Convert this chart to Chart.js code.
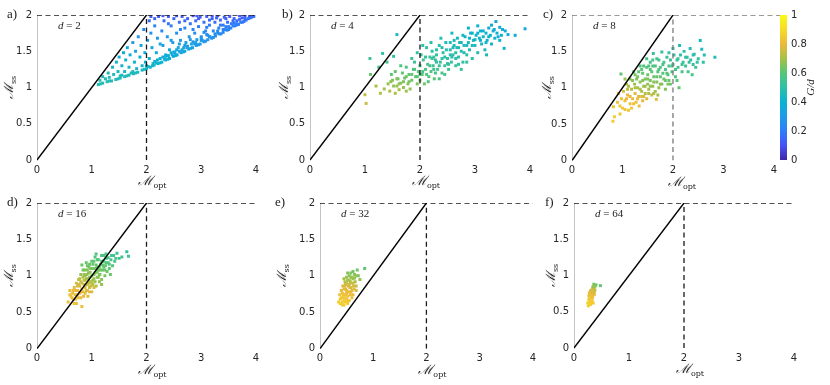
<!DOCTYPE html>
<html>
<head>
<meta charset="utf-8">
<script src="https://cdn.jsdelivr.net/npm/chart.js@4.4.1/dist/chart.umd.min.js"></script>
<style>
  body { margin: 0; background: #fff; width: 830px; height: 385px; position: relative; overflow: hidden; }
  canvas { position: absolute; }
</style>
</head>
<body>
<canvas id="pa"></canvas>
<canvas id="pb"></canvas>
<canvas id="pc"></canvas>
<canvas id="pd"></canvas>
<canvas id="pe"></canvas>
<canvas id="pf"></canvas>
<canvas id="cbar"></canvas>
<script>
// ---- axis ticks / reference lines ----
const xTicks = [0, 1, 2, 3, 4];
const yTicks = [0, 0.5, 1, 1.5, 2];
const cbTicks = [0, 0.2, 0.4, 0.6, 0.8, 1];
const diagX = [0, 2], diagY = [0, 2];   // M_ss = M_opt
const capY = 2, splitX = 2;             // dashed limits

// ---- scatter points: [M_opt, M_ss, G/d] ----
const dimA = 2;
const ptsA = [
  // lower edge band
  [1.12,1.04,.47],[1.20,1.06,.47],[1.28,1.08,.47],[1.36,1.09,.47],[1.44,1.11,.47],[1.52,1.13,.47],
  [1.60,1.15,.46],[1.68,1.17,.45],[1.76,1.19,.45],[1.84,1.21,.45],[1.92,1.24,.44],[2.00,1.26,.43],
  [2.07,1.28,.42],[2.14,1.31,.42],[2.21,1.33,.41],[2.28,1.35,.40],[2.35,1.38,.39],[2.42,1.40,.38],
  [2.49,1.43,.37],[2.56,1.45,.36],[2.63,1.48,.35],[2.70,1.50,.34],[2.77,1.53,.33],[2.84,1.55,.32],
  [2.91,1.58,.31],[2.98,1.60,.30],[3.05,1.63,.29],[3.12,1.66,.28],[3.19,1.68,.27],[3.26,1.71,.26],
  [3.33,1.74,.25],[3.40,1.76,.24],[3.47,1.79,.23],[3.54,1.82,.22],[3.61,1.85,.21],[3.68,1.87,.20],
  [3.75,1.90,.19],[3.82,1.93,.18],[3.89,1.96,.18],[3.96,1.98,.17],
  [2.03,1.29,.42],[2.18,1.34,.41],[2.33,1.39,.39],[2.47,1.45,.37],[2.60,1.50,.35],[2.74,1.55,.33],
  [2.88,1.60,.31],[3.02,1.65,.29],[3.16,1.70,.27],[3.30,1.75,.25],[3.44,1.80,.23],[3.58,1.85,.21],
  [3.72,1.90,.19],[3.86,1.95,.18],
  [3.08,1.64,.29],[3.22,1.69,.27],[3.36,1.74,.25],[3.50,1.80,.23],[3.64,1.86,.21],[3.78,1.91,.19],
  [3.92,1.97,.18],[2.95,1.59,.31],[2.81,1.54,.33],[2.67,1.49,.35],[2.53,1.44,.37],[2.39,1.39,.39],
  [2.25,1.34,.41],[2.11,1.30,.42],[1.96,1.25,.44],[1.80,1.20,.45],[1.64,1.16,.46],[1.48,1.12,.47],
  [1.32,1.09,.47],[1.16,1.05,.47],
  // scattered interior
  [1.15,1.10,.47],[1.20,1.15,.46],[1.25,1.12,.47],[1.30,1.20,.45],[1.32,1.14,.46],[1.38,1.28,.43],
  [1.40,1.18,.45],[1.45,1.35,.41],[1.48,1.22,.44],[1.50,1.42,.38],[1.52,1.16,.46],[1.55,1.30,.42],
  [1.58,1.48,.37],[1.60,1.22,.44],[1.62,1.38,.40],[1.65,1.55,.34],[1.68,1.28,.43],[1.70,1.45,.38],
  [1.72,1.20,.45],[1.75,1.62,.31],[1.78,1.35,.41],[1.80,1.50,.36],[1.82,1.26,.43],[1.85,1.70,.28],
  [1.88,1.42,.39],[1.90,1.58,.33],[1.92,1.30,.42],[1.95,1.80,.24],[1.97,1.48,.37],[1.98,1.35,.41],
  [2.02,1.65,.30],[2.05,1.92,.16],[2.05,1.40,.39],[2.08,1.75,.26],[2.10,1.55,.34],[2.12,1.33,.42],
  [2.15,1.85,.21],[2.18,1.48,.37],[2.20,1.68,.29],[2.22,1.98,.12],[2.25,1.40,.39],[2.28,1.78,.24],
  [2.30,1.58,.33],[2.32,1.92,.15],[2.35,1.45,.38],[2.38,1.70,.28],[2.40,1.98,.12],[2.42,1.52,.35],
  [2.45,1.85,.20],[2.48,1.62,.31],[2.50,1.95,.14],[2.52,1.48,.37],[2.55,1.75,.26],[2.58,1.55,.34],
  [2.60,1.90,.17],[2.62,1.65,.30],[2.65,1.98,.12],[2.68,1.55,.34],[2.70,1.82,.22],[2.72,1.62,.31],
  [2.75,1.95,.14],[2.78,1.70,.28],[2.80,1.88,.18],[2.82,1.60,.32],[2.85,1.99,.11],[2.88,1.75,.26],
  [2.90,1.92,.16],[2.92,1.66,.30],[2.95,1.84,.20],[2.98,1.97,.13],[3.00,1.70,.28],[3.05,1.90,.17],
  [3.08,1.78,.24],[3.10,1.98,.12],[3.12,1.72,.27],[3.15,1.86,.19],[3.20,1.95,.14],[3.22,1.78,.24],
  [3.25,1.90,.17],[3.30,1.99,.11],[3.32,1.82,.22],[3.35,1.93,.15],[3.40,1.86,.19],[3.42,1.97,.13],
  [3.48,1.90,.17],[3.52,1.98,.12],[3.55,1.88,.19],[3.60,1.95,.14],[3.65,1.92,.16],[3.70,1.99,.11],
  [3.75,1.96,.13],[3.80,1.98,.12],[2.00,1.30,.42],[2.15,1.36,.41],[2.40,1.44,.38],[2.65,1.52,.35],
  [2.90,1.62,.31],[3.15,1.70,.28],[3.40,1.80,.23],[3.65,1.88,.20],[2.50,1.49,.36],[2.75,1.57,.33],
  [3.00,1.65,.30],[3.25,1.74,.26],[3.50,1.84,.21],[3.80,1.94,.17],[1.75,1.22,.45],[1.55,1.17,.46],
  [2.30,1.42,.38],[2.08,1.98,.12],[2.30,1.99,.11],[2.55,1.99,.11],[2.92,1.99,.11],[3.20,1.99,.11],
  [2.20,1.38,.40],[2.35,1.43,.38],[2.45,1.48,.36],[2.55,1.52,.35],[2.70,1.58,.32],[2.85,1.63,.30],
  [3.00,1.68,.28],[3.10,1.73,.26],[3.30,1.78,.24],[3.45,1.84,.21],[3.60,1.89,.19],[2.60,1.60,.32],
  [2.80,1.66,.29],[3.05,1.76,.25],[3.35,1.86,.20],[3.58,1.92,.16],[3.15,1.93,.15],[2.95,1.95,.13],
  [2.70,1.92,.15],[2.40,1.88,.18],[3.45,1.95,.13],[3.70,1.94,.15],[2.15,1.95,.14],[2.62,1.80,.23],
  [2.85,1.80,.22],[3.10,1.83,.20],[2.45,1.65,.30],[2.25,1.60,.32],[3.28,1.96,.13],[3.88,1.99,.12]
];

const dimB = 4;
const ptsB = [
  [1.58,1.73,.45],[1.09,1.40,.55],[1.32,1.47,.50],[1.00,0.90,.74],[1.02,0.78,.75],[1.10,1.18,.62],
  [1.25,1.28,.58],[1.28,0.92,.72],[1.20,1.02,.70],[1.40,1.35,.55],[3.91,1.81,.36],[3.73,1.72,.37],
  [3.60,1.73,.38],[3.38,1.91,.33],[3.53,1.54,.42],[3.45,1.83,.35],[3.21,1.45,.44],[3.30,1.86,.36],
  [3.55,1.78,.36],[1.48,1.18,.60],[1.52,1.43,.50],
  [1.35,0.98,.70],[1.42,1.05,.68],[1.45,0.95,.72],[1.50,1.10,.66],[1.55,0.92,.71],[1.58,1.02,.68],
  [1.60,1.12,.64],[1.62,0.97,.70],[1.65,1.06,.67],[1.68,1.20,.62],[1.70,1.00,.68],[1.72,1.13,.64],
  [1.75,1.28,.58],[1.78,1.05,.66],[1.80,1.18,.62],[1.82,0.98,.68],[1.85,1.10,.64],[1.88,1.25,.60],
  [1.90,1.35,.55],[1.92,1.15,.62],[1.95,1.05,.65],[1.97,1.22,.60],[2.00,1.10,.63],[2.00,1.30,.57],
  [2.02,1.45,.52],[2.04,1.18,.60],[2.06,1.38,.55],[2.08,1.05,.64],[2.10,1.25,.58],[2.12,1.55,.50],
  [2.14,1.32,.56],[2.16,1.15,.60],[2.18,1.42,.53],[2.20,1.22,.58],[2.22,1.50,.50],[2.24,1.30,.55],
  [2.26,1.12,.60],[2.28,1.38,.53],[2.30,1.45,.51],[2.32,1.25,.56],[2.35,1.58,.48],[2.37,1.35,.53],
  [2.40,1.20,.57],[2.42,1.48,.50],[2.45,1.30,.54],[2.47,1.62,.46],[2.50,1.40,.51],[2.52,1.25,.55],
  [2.55,1.52,.48],[2.57,1.35,.52],[2.60,1.45,.50],[2.62,1.65,.45],[2.65,1.30,.53],[2.67,1.55,.47],
  [2.70,1.42,.50],[2.72,1.62,.45],[2.75,1.50,.48],[2.78,1.35,.52],[2.80,1.58,.46],[2.82,1.70,.43],
  [2.85,1.45,.49],[2.88,1.62,.45],[2.90,1.52,.47],[2.92,1.75,.42],[2.95,1.40,.50],[2.97,1.65,.44],
  [3.00,1.58,.45],[3.02,1.72,.42],[3.05,1.48,.47],[3.08,1.68,.43],[3.10,1.78,.40],[3.12,1.60,.44],
  [3.15,1.70,.42],[3.18,1.52,.45],[3.20,1.75,.40],[3.22,1.65,.42],[3.25,1.82,.38],[3.28,1.72,.40],
  [3.30,1.60,.43],[3.33,1.78,.39],[3.36,1.68,.41],[3.40,1.75,.39],[3.45,1.65,.41],[3.48,1.72,.39],
  [3.50,1.80,.37],[1.85,1.40,.54],[1.95,1.48,.52],[2.05,1.58,.50],[2.15,1.08,.60],[2.25,1.42,.53],
  [2.35,1.12,.58],[2.45,1.18,.56],[2.55,1.62,.46],[2.65,1.48,.49],[2.75,1.25,.53],[2.85,1.35,.51],
  [1.65,1.30,.58],[1.75,0.95,.69],[1.55,1.22,.62],[2.58,1.75,.44],[2.38,1.68,.47],[2.20,1.62,.49],
  [2.88,1.82,.41],[3.05,1.85,.39],
  [2.05,1.22,.57],[2.12,1.18,.58],[2.18,1.30,.55],[2.25,1.25,.55],[2.30,1.35,.52],[2.35,1.30,.53],
  [2.40,1.40,.50],[2.45,1.42,.49],[2.50,1.33,.51],[2.55,1.45,.48],[2.60,1.55,.46],[2.65,1.40,.49],
  [2.70,1.55,.46],[2.75,1.62,.44],[2.80,1.48,.47],[2.85,1.58,.45],[2.90,1.68,.42],[2.95,1.58,.44],
  [3.00,1.66,.42],[3.05,1.75,.40],[3.10,1.65,.42],[3.15,1.78,.39],[3.20,1.62,.42],[3.25,1.70,.40],
  [3.35,1.80,.37],[3.42,1.70,.39],[1.90,1.25,.58],[1.95,1.15,.60],[1.85,1.18,.61],[1.80,1.08,.64],
  [1.75,1.15,.63],[1.70,1.08,.65],[1.62,1.05,.67],[1.58,1.12,.65],[1.52,1.02,.68],[1.47,1.08,.67],
  [2.10,1.42,.53],[2.22,1.40,.52],[2.30,1.52,.50],[2.40,1.55,.48],[2.48,1.52,.48],[2.58,1.42,.49],
  [2.68,1.68,.44],[2.78,1.72,.43],[2.95,1.75,.41],[2.00,1.18,.60],[2.28,1.20,.57],[2.52,1.32,.52],
  [2.70,1.32,.51],[2.62,1.58,.46]
];

const dimC = 8;
const ptsC = [
  [0.81,0.54,.85],[0.84,0.60,.85],[0.95,0.64,.84],[0.82,0.74,.84],[0.90,0.80,.83],[0.97,1.19,.61],
  [1.05,0.82,.82],[1.12,0.69,.84],[1.02,0.95,.78],[1.08,1.05,.70],[1.10,0.90,.80],[1.15,0.78,.83],
  [1.15,1.12,.66],[1.18,0.98,.72],[1.20,0.85,.81],[1.22,1.22,.62],[1.24,1.05,.69],[1.25,0.92,.78],
  [1.27,0.80,.82],[1.30,1.15,.65],[1.30,1.00,.70],[1.32,0.88,.79],[1.35,1.30,.58],[1.35,1.08,.67],
  [1.38,0.95,.72],[1.40,1.20,.62],[1.40,0.82,.80],[1.42,1.02,.69],[1.45,1.12,.65],[1.45,0.92,.72],
  [1.48,1.28,.59],[1.50,1.05,.67],[1.50,1.18,.63],[1.52,0.98,.70],[1.55,1.35,.56],[1.55,1.10,.65],
  [1.58,0.90,.77],[1.58,1.22,.61],[1.60,1.02,.68],[1.61,1.47,.52],[1.62,1.15,.63],[1.65,1.30,.58],
  [1.65,0.95,.70],[1.67,0.84,.78],[1.68,1.08,.66],[1.70,1.22,.60],[1.72,1.38,.55],[1.72,1.00,.68],
  [1.75,1.15,.62],[1.75,1.28,.58],[1.78,1.49,.51],[1.78,1.05,.65],[1.80,1.20,.60],[1.82,1.35,.56],
  [1.85,1.10,.63],[1.85,1.25,.58],[1.88,1.42,.53],[1.90,1.18,.60],[1.92,1.30,.56],[1.95,1.05,.64],
  [1.95,1.38,.54],[1.98,1.22,.58],[2.00,1.54,.48],[2.00,1.32,.55],[2.02,1.45,.51],[2.05,1.15,.59],
  [2.08,1.10,.61],[2.08,1.38,.53],[2.10,1.28,.56],[2.13,1.58,.46],[2.15,1.45,.51],[2.18,1.22,.57],
  [2.20,1.35,.53],[2.22,1.50,.49],[2.25,1.30,.54],[2.28,1.42,.51],[2.30,1.22,.56],[2.34,1.54,.47],
  [2.35,1.38,.51],[2.40,1.32,.53],[2.42,1.46,.49],[2.45,1.28,.54],[2.50,1.40,.50],[2.54,1.65,.43],
  [2.57,1.53,.46],[2.60,1.35,.51],[2.62,1.45,.48],[2.83,1.42,.48],
  [1.12,1.02,.71],[1.28,1.12,.66],[1.38,1.25,.61],[1.42,0.88,.78],[1.52,1.30,.59],[1.62,0.92,.71],
  [1.68,1.40,.55],[1.85,0.98,.66],[1.92,1.48,.51],[1.05,1.12,.68],[0.92,0.92,.80],[1.00,0.72,.84],
  [1.18,0.72,.83],[1.33,0.75,.81],[1.48,1.40,.56],[1.70,0.90,.71],[1.90,1.05,.64],[2.12,1.00,.62],
  [2.38,1.18,.56],
  [1.20,1.10,.67],[1.25,1.00,.71],[1.35,0.98,.71],[1.40,1.10,.66],[1.45,1.02,.69],[1.50,1.12,.65],
  [1.55,1.02,.68],[1.55,1.25,.60],[1.60,1.30,.58],[1.62,1.08,.66],[1.68,1.15,.63],[1.72,1.25,.59],
  [1.75,1.05,.66],[1.80,1.32,.57],[1.82,1.12,.63],[1.88,1.20,.60],[1.92,1.10,.62],[1.98,1.30,.56],
  [2.05,1.25,.57],[2.10,1.40,.53],[2.18,1.32,.54],[2.25,1.42,.51],[2.32,1.35,.52],[2.40,1.45,.49],
  [2.48,1.35,.51],[1.10,0.98,.73],[1.15,0.88,.80],[1.22,0.78,.82],[1.30,0.85,.80],[1.38,0.88,.78],
  [1.48,0.85,.78],[1.52,0.92,.72],[1.25,1.18,.64],[1.32,1.22,.62],[1.42,1.30,.59],[1.08,0.85,.81],
  [0.98,0.85,.82],[0.95,0.75,.84],[1.05,0.70,.84],[1.60,1.38,.56]
];

const dimD = 16;
const ptsD = [
  [0.57,0.64,.82],[0.62,0.72,.82],[0.60,0.80,.80],[0.65,0.76,.81],[0.66,0.68,.82],[0.68,0.84,.79],
  [0.70,0.74,.81],[0.72,0.62,.82],[0.72,0.90,.76],[0.74,0.80,.80],[0.75,0.70,.81],[0.76,0.95,.73],
  [0.78,0.86,.76],[0.78,0.76,.80],[0.80,1.02,.68],[0.80,0.92,.75],[0.82,1.15,.63],[0.82,0.58,.82],
  [0.82,0.82,.79],[0.84,0.98,.72],[0.85,0.72,.80],[0.86,0.88,.75],[0.87,1.08,.66],[0.88,0.94,.73],
  [0.90,0.80,.78],[0.90,1.18,.62],[0.91,1.02,.68],[0.92,0.88,.74],[0.93,0.72,.79],[0.94,0.96,.69],
  [0.95,1.12,.64],[0.96,0.84,.75],[0.97,1.05,.67],[0.98,0.92,.72],[1.00,1.20,.61],[1.00,1.00,.67],
  [1.00,0.78,.78],[1.02,0.88,.73],[1.03,1.10,.64],[1.04,0.96,.68],[1.06,1.26,.59],[1.06,1.04,.66],
  [1.08,0.86,.73],[1.08,1.15,.62],[1.10,0.98,.67],[1.12,1.08,.64],[1.12,1.22,.60],[1.14,0.92,.68],
  [1.15,1.02,.65],[1.16,1.16,.61],[1.18,1.28,.58],[1.18,0.95,.67],[1.20,1.08,.63],[1.22,1.20,.59],
  [1.24,1.00,.65],[1.25,1.14,.61],[1.27,1.24,.57],[1.28,1.06,.63],[1.30,1.18,.59],[1.32,1.10,.61],
  [1.35,1.22,.57],[1.38,1.14,.59],[1.40,1.28,.55],[1.42,1.20,.57],[1.46,1.31,.53],[1.50,1.24,.55],
  [1.64,1.33,.52],[1.67,1.27,.53],
  [0.88,1.00,.69],[0.92,1.08,.66],[0.96,0.98,.68],[1.02,1.16,.62],[1.06,0.92,.69],[1.10,1.12,.63],
  [0.86,0.94,.74],[0.94,0.90,.74],[0.98,0.86,.75],[1.04,1.02,.66],[0.76,0.88,.76],[0.70,0.80,.80],
  [0.84,0.78,.79],[0.96,1.16,.63],[1.14,1.02,.65],[1.20,1.15,.61],[0.80,0.70,.81],[0.68,0.62,.83],
  [0.92,0.80,.78],[1.18,0.88,.68],[1.34,1.02,.63],[1.26,1.30,.57],
  [0.82,0.90,.75],[0.86,1.02,.68],[0.90,0.96,.69],[0.94,1.04,.67],[0.98,1.10,.65],[1.02,0.94,.69],
  [1.06,1.10,.64],[1.10,1.05,.65],[1.14,1.12,.63],[1.18,1.20,.60],[1.22,1.12,.62],[1.26,1.18,.60],
  [1.30,1.25,.57],[1.00,0.90,.73],[0.96,0.92,.74],[0.88,0.84,.78],[0.80,0.78,.80],[0.74,0.74,.81],
  [0.70,0.68,.82],[0.64,0.70,.82],[0.78,0.96,.73],[0.84,1.08,.65],[0.92,1.14,.63],[1.04,1.20,.61],
  [1.10,1.22,.60],[1.16,1.08,.63],[1.24,1.08,.63],[1.32,1.16,.60],[1.36,1.28,.56],[1.44,1.24,.56],
  [0.88,0.76,.79],[0.96,0.78,.78],[1.04,0.84,.76],[1.12,0.98,.67],[0.74,0.86,.77],[0.66,0.80,.81],
  [0.60,0.74,.82],[1.08,1.30,.58],[1.22,1.28,.58],[1.55,1.26,.55]
];

const dimE = 32;
const ptsE = [
  [0.40,0.62,.86],[0.45,0.60,.86],[0.48,0.64,.85],[0.38,0.68,.85],[0.43,0.70,.84],[0.50,0.68,.84],
  [0.55,0.66,.84],[0.37,0.74,.83],[0.42,0.76,.82],[0.47,0.74,.82],[0.52,0.72,.82],[0.57,0.74,.81],
  [0.40,0.80,.80],[0.45,0.82,.79],[0.50,0.80,.80],[0.55,0.78,.80],[0.60,0.80,.79],[0.43,0.86,.77],
  [0.48,0.88,.76],[0.53,0.86,.77],[0.58,0.84,.78],[0.63,0.86,.77],[0.47,0.92,.71],[0.52,0.94,.70],
  [0.57,0.92,.71],[0.62,0.90,.75],[0.66,0.92,.71],[0.50,0.98,.68],[0.55,1.00,.67],[0.60,0.98,.68],
  [0.65,0.97,.68],[0.58,1.04,.65],[0.62,1.06,.64],[0.70,1.08,.63],[0.84,1.10,.61],[0.72,1.00,.66],
  [0.75,0.95,.68],[0.68,0.86,.75],[0.45,0.66,.85],[0.52,0.62,.85],[0.60,0.70,.82],[0.35,0.64,.86],
  [0.50,0.76,.81],[0.55,0.88,.76],[0.45,0.96,.70],[0.65,1.02,.66],[0.68,0.80,.77],[0.42,0.64,.85],
  [0.46,0.70,.84],[0.52,0.78,.81],[0.48,0.82,.79],[0.56,0.84,.78],[0.60,0.90,.75],[0.50,0.90,.76],
  [0.55,0.94,.71],[0.62,0.96,.69],[0.58,0.98,.68],[0.44,0.74,.83],[0.40,0.70,.84],[0.53,0.66,.84],
  [0.58,0.78,.80],[0.64,0.82,.78],[0.46,0.86,.78],[0.52,1.04,.66],[0.68,1.00,.67],[0.62,0.74,.80],
  [0.38,0.62,.86],[0.42,0.60,.86]
];

const dimF = 64;
const ptsF = [
  [0.26,0.58,.87],[0.30,0.60,.86],[0.28,0.63,.85],[0.25,0.62,.86],[0.32,0.64,.85],[0.27,0.67,.84],
  [0.31,0.68,.83],[0.29,0.71,.82],[0.34,0.70,.82],[0.30,0.74,.80],[0.33,0.76,.79],[0.28,0.76,.80],
  [0.35,0.78,.77],[0.32,0.80,.76],[0.36,0.82,.72],[0.34,0.84,.69],[0.38,0.85,.67],[0.36,0.88,.64],
  [0.40,0.87,.64],[0.48,0.86,.62],[0.31,0.72,.81],[0.33,0.66,.84],[0.37,0.74,.79],[0.29,0.66,.85],
  [0.35,0.62,.85],[0.38,0.80,.73],[0.27,0.72,.82],[0.30,0.79,.78],
  [0.28,0.60,.86],[0.31,0.62,.86],[0.30,0.66,.85],[0.32,0.70,.83],[0.30,0.70,.83],[0.33,0.73,.81],
  [0.35,0.75,.79],[0.34,0.80,.75],[0.36,0.85,.68],[0.33,0.78,.78],[0.29,0.74,.81],[0.37,0.78,.76]
];

// ---- parula-like colour map ----
const parulaStops = [[62,38,168],[71,82,245],[46,125,250],[30,155,232],[10,178,210],[45,192,168],
  [85,198,120],[165,193,70],[235,185,60],[246,220,40],[249,251,20]];
function parula(t) {
  const s = Math.max(0, Math.min(1, t)) * 10;
  const i = Math.min(9, Math.floor(s)), f = s - i;
  const a = parulaStops[i], b = parulaStops[i + 1];
  return 'rgb(' + a.map((v, k) => Math.round(v + (b[k] - v) * f)).join(',') + ')';
}

const tickFont = { family: 'DejaVu Sans', size: 10 };
const tickColor = '#262626';

function drawSub(ctx, main, sub, cx, cy) {
  ctx.font = 'italic 13px "DejaVu Serif"';
  const w1 = ctx.measureText(main).width;
  ctx.font = '8px "DejaVu Serif"';
  const w2 = ctx.measureText(sub).width;
  let x = cx - (w1 + w2) / 2;
  ctx.textAlign = 'left';
  ctx.textBaseline = 'middle';
  ctx.font = 'italic 13px "DejaVu Serif"';
  ctx.fillText(main, x, cy);
  ctx.font = '8px "DejaVu Serif"';
  ctx.fillText(sub, x + w1, cy + 4);
}

const panelText = {
  id: 'panelText',
  afterDraw(chart, args, o) {
    const { ctx, chartArea: ca } = chart;
    ctx.save();
    ctx.fillStyle = '#222';
    ctx.textBaseline = 'middle';
    ctx.textAlign = 'left';
    ctx.font = '13px "Liberation Serif"';
    ctx.fillText(o.letter, o.letterX, ca.top);
    ctx.font = 'italic 11px "Liberation Serif"';
    ctx.fillText('d', ca.left + 21, ca.top + 11);
    const w = ctx.measureText('d').width;
    ctx.font = '11px "Liberation Serif"';
    ctx.fillText(' = ' + o.d, ca.left + 21 + w, ca.top + 11);
    drawSub(ctx, 'ℳ', 'opt', (ca.left + ca.right) / 2 + 6, ca.bottom + 22);
    ctx.translate(o.yTitleX, (ca.top + ca.bottom) / 2);
    ctx.rotate(-Math.PI / 2);
    drawSub(ctx, 'ℳ', 'ss', 0, 0);
    ctx.restore();
  }
};

const panels = [
  { id: 'pa', letter: 'a)', d: dimA, pts: ptsA, canvas: [0, 0, 272, 192],   area: [37, 256, 15, 160],    xMax: 4,    letterX: 7,   yTitleX: 10,  dash: '#1a1a1a' },
  { id: 'pb', letter: 'b)', d: dimB, pts: ptsB, canvas: [272, 0, 268, 192], area: [310, 530, 15, 160],   xMax: 4,    letterX: 282, yTitleX: 285, dash: '#1a1a1a' },
  { id: 'pc', letter: 'c)', d: dimC, pts: ptsC, canvas: [540, 0, 245, 192], area: [572, 780, 15, 160.5], xMax: 4.12, letterX: 543, yTitleX: 548, dash: '#7a7a7a' },
  { id: 'pd', letter: 'd)', d: dimD, pts: ptsD, canvas: [0, 192, 272, 193],   area: [37, 256, 202.7, 348.7],  xMax: 4, letterX: 7,   yTitleX: 10,  dash: '#1a1a1a' },
  { id: 'pe', letter: 'e)', d: dimE, pts: ptsE, canvas: [272, 192, 268, 193], area: [320, 538, 202.7, 348.7], xMax: 4, letterX: 275, yTitleX: 283, dash: '#1a1a1a' },
  { id: 'pf', letter: 'f)', d: dimF, pts: ptsF, canvas: [540, 192, 290, 193], area: [574, 794, 202.7, 348],   xMax: 4, letterX: 545, yTitleX: 552, dash: '#1a1a1a' }
];

function pairs(xs, ys) { return xs.map((x, i) => ({ x: x, y: ys[i] })); }

function makePanel(p) {
  const cv = document.getElementById(p.id);
  const [cl, ct, cw, ch] = p.canvas;
  const [al, ar, at, ab] = p.area;
  cv.width = cw; cv.height = ch;
  cv.style.left = cl + 'px'; cv.style.top = ct + 'px';
  const yw = al - cl, xh = ct + ch - ab;

  new Chart(cv, {
    type: 'scatter',
    data: {
      datasets: [
        { data: pairs(diagX, diagY), showLine: true, borderColor: '#000', borderWidth: 1.4, pointRadius: 0 },
        { data: pairs([0, p.xMax], [capY, capY]), showLine: true, borderColor: p.dash, borderWidth: 1.3, borderDash: [5, 3.5], pointRadius: 0 },
        { data: pairs([splitX, splitX], [0, capY]), showLine: true, borderColor: p.dash, borderWidth: 1.3, borderDash: [5, 3.5], pointRadius: 0 },
        {
          data: p.pts.map(q => ({ x: q[0], y: q[1] })),
          backgroundColor: p.pts.map(q => parula(q[2])),
          pointStyle: 'rect', pointRadius: 2.1, pointBorderWidth: 0, borderWidth: 0
        }
      ]
    },
    options: {
      responsive: false, animation: false, devicePixelRatio: 1,
      layout: { padding: { left: 0, top: at - ct, right: cl + cw - ar, bottom: 0 } },
      plugins: {
        legend: { display: false }, tooltip: { enabled: false },
        panelText: { letter: p.letter, d: p.d, letterX: p.letterX - cl, yTitleX: p.yTitleX - cl }
      },
      scales: {
        x: {
          type: 'linear', min: 0, max: p.xMax,
          afterBuildTicks: s => { s.ticks = xTicks.map(v => ({ value: v })); },
          afterFit: s => { s.height = xh; },
          grid: { display: false, drawTicks: false },
          border: { display: false },
          ticks: { padding: 4, maxRotation: 0, font: tickFont, color: tickColor, callback: v => String(v) }
        },
        y: {
          type: 'linear', min: 0, max: 2,
          afterBuildTicks: s => { s.ticks = yTicks.map(v => ({ value: v })); },
          afterFit: s => { s.width = yw; },
          grid: { display: false, drawTicks: false },
          border: { display: true, color: '#c4c4c4', width: 1 },
          ticks: { padding: 5, font: tickFont, color: tickColor, callback: v => String(v) }
        }
      }
    },
    plugins: [panelText]
  });
}
panels.forEach(makePanel);

// ---- colour bar ----
const cbFill = {
  id: 'cbFill',
  beforeDatasetsDraw(chart) {
    const { ctx, chartArea: ca } = chart;
    const g = ctx.createLinearGradient(0, ca.bottom, 0, ca.top);
    parulaStops.forEach((c, i) => g.addColorStop(i / 10, 'rgb(' + c.join(',') + ')'));
    ctx.save();
    ctx.fillStyle = g;
    ctx.fillRect(ca.left, ca.top, ca.right - ca.left, ca.bottom - ca.top);
    ctx.fillStyle = '#222';
    ctx.translate(ca.right + 24, (ca.top + ca.bottom) / 2);
    ctx.rotate(-Math.PI / 2);
    ctx.textAlign = 'center';
    ctx.textBaseline = 'middle';
    ctx.font = 'italic 11px "Liberation Serif"';
    ctx.fillText('G/d', 0, 0);
    ctx.restore();
  }
};

(function () {
  const cv = document.getElementById('cbar');
  const cl = 776, ct = 0, cw = 54, ch = 192;
  cv.width = cw; cv.height = ch;
  cv.style.left = cl + 'px'; cv.style.top = ct + 'px';
  const barL = 780, barR = 787, barT = 15, barB = 160;
  new Chart(cv, {
    type: 'scatter',
    data: { datasets: [{ data: [] }] },
    options: {
      responsive: false, animation: false, devicePixelRatio: 1,
      layout: { padding: { left: barL - cl, top: barT - ct, right: 0, bottom: ct + ch - barB } },
      plugins: { legend: { display: false }, tooltip: { enabled: false } },
      scales: {
        x: { display: false, min: 0, max: 1 },
        y: {
          position: 'right', min: 0, max: 1,
          afterBuildTicks: s => { s.ticks = cbTicks.map(v => ({ value: v })); },
          afterFit: s => { s.width = cl + cw - barR; },
          grid: { display: false, drawTicks: false },
          border: { display: false },
          ticks: { padding: 4, font: tickFont, color: tickColor, callback: v => String(v) }
        }
      }
    },
    plugins: [cbFill]
  });
})();
</script>
</body>
</html>
